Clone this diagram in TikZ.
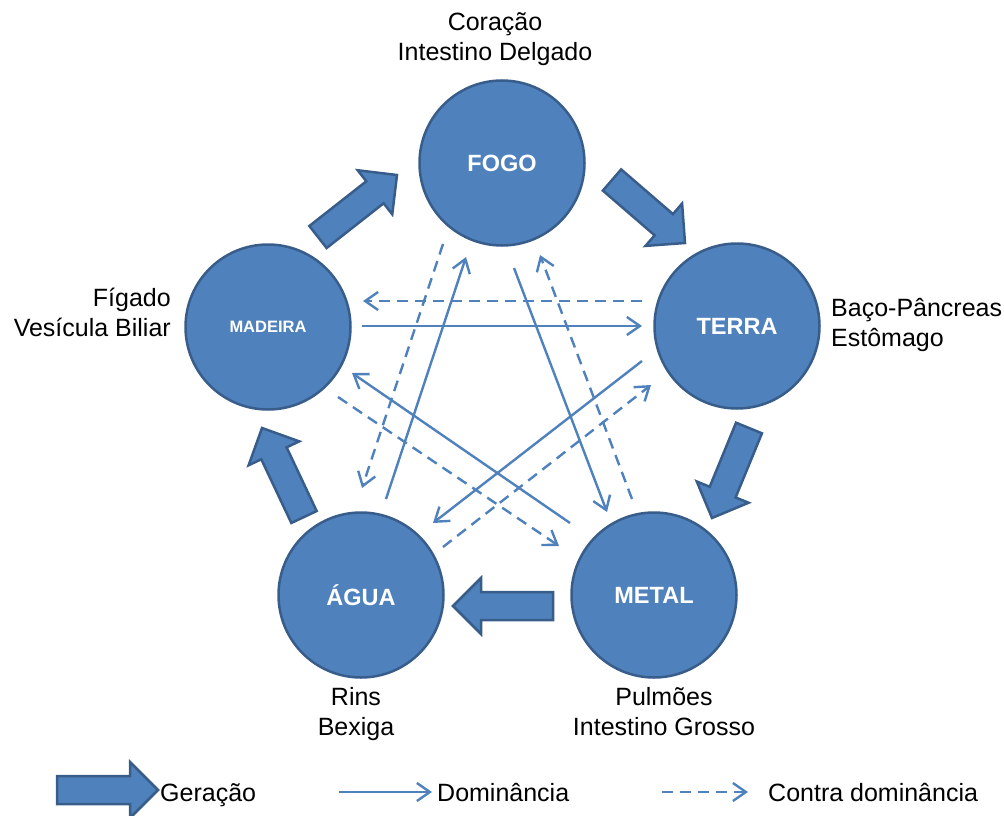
\documentclass[tikz,border=0pt]{standalone}
\usepackage{fontspec}
\setmainfont{Liberation Sans}
\usetikzlibrary{calc,arrows.meta}

\definecolor{elemfill}{HTML}{4F81BD}
\definecolor{elemedge}{HTML}{385D8A}
\definecolor{linkblue}{HTML}{4F81BD}

\tikzset{
  element/.style={circle, fill=elemfill, draw=elemedge, line width=2.5pt,
    minimum size=165pt, inner sep=0pt, text=white,
    font=\bfseries\fontsize{23.5}{28}\selectfont},
  organ/.style={inner sep=0pt, text=black, font=\fontsize{25}{29.5}\selectfont},
  gen/.style={fill=elemfill, draw=elemedge, line width=2.5pt, line join=miter},
  dom/.style={draw=linkblue, line width=2.4pt, -{Straight Barb[length=13pt,width=18pt]}},
  contra/.style={dom, dash pattern=on 11pt off 7pt},
}

% thick block arrow of the generation cycle, from tail (#1) to tip (#2)
\newcommand\genarrow[2]{%
  \coordinate (gh) at ($(#2)!28pt!(#1)$);
  \draw[gen] ($(#1)!14pt!90:(#2)$) -- ($(gh)!14pt!90:(#2)$)
    -- ($(gh)!28pt!90:(#2)$) -- (#2) -- ($(gh)!28pt!-90:(#2)$)
    -- ($(gh)!14pt!-90:(#2)$) -- ($(#1)!14pt!-90:(#2)$) -- cycle;}

\begin{document}
\begin{tikzpicture}[x=1pt, y=-1pt]
\useasboundingbox (0,0) rectangle (1004,816);

% the five elements
\node[element] (fogo)  at (502,163) {FOGO};
\node[element] (terra) at (737,326) {TERRA};
\node[element] (metal) at (654,595) {METAL};
\node[element] (agua)  at (361,595) {ÁGUA};
\node[element, font=\bfseries\fontsize{16.5}{20}\selectfont] (madeira) at (268,327) {MADEIRA};

% organs of each element (anchored at the baseline of the last line)
\node[organ, align=center, anchor=base] (o-fogo)  at (495,60)  {Coração\\Intestino Delgado};
\node[organ, align=left,   anchor=base west] (o-terra) at (831,346) {Baço-Pâncreas\\Estômago};
\node[organ, align=center, anchor=base] (o-metal) at (664,735) {Pulmões\\Intestino Grosso};
\node[organ, align=center, anchor=base] (o-agua)  at (356,735) {Rins\\Bexiga};
\node[organ, align=right,  anchor=base east] (o-madeira) at (171,336) {Fígado\\Vesícula Biliar};

% generation cycle
\coordinate (g1a) at (318,237); \coordinate (g1b) at (397,175);
\coordinate (g2a) at (612,180); \coordinate (g2b) at (685,243);
\coordinate (g3a) at (749,428); \coordinate (g3b) at (712,518);
\coordinate (g4a) at (553,606); \coordinate (g4b) at (453,606);
\coordinate (g5a) at (304,517); \coordinate (g5b) at (262,428);
\genarrow{g1a}{g1b}
\genarrow{g2a}{g2b}
\genarrow{g3a}{g3b}
\genarrow{g4a}{g4b}
\genarrow{g5a}{g5b}

% dominance (solid) and counter-dominance (dashed)
\coordinate (d1a) at (362,326); \coordinate (d1b) at (642,326);
\coordinate (d2a) at (642,361); \coordinate (d2b) at (433,523);
\coordinate (d3a) at (386,499); \coordinate (d3b) at (466,257);
\coordinate (d4a) at (514,268); \coordinate (d4b) at (607,512);
\coordinate (d5a) at (570,523); \coordinate (d5b) at (352,373);
\draw[dom] (d1a) -- (d1b);
\draw[dom] (d2a) -- (d2b);
\draw[dom] (d3a) -- (d3b);
\draw[dom] (d4a) -- (d4b);
\draw[dom] (d5a) -- (d5b);

\coordinate (c1a) at (642,301); \coordinate (c1b) at (363,301);
\coordinate (c2a) at (443,244); \coordinate (c2b) at (362,488);
\coordinate (c3a) at (632,499); \coordinate (c3b) at (540,255);
\coordinate (c4a) at (338,397); \coordinate (c4b) at (559,546);
\coordinate (c5a) at (443,547); \coordinate (c5b) at (651,385);
\draw[contra] (c1a) -- (c1b);
\draw[contra] (c2a) -- (c2b);
\draw[contra] (c3a) -- (c3b);
\draw[contra] (c4a) -- (c4b);
\draw[contra] (c5a) -- (c5b);

% legend
\coordinate (lg1) at (57,790);  \coordinate (lg2) at (158,790);
\genarrow{lg1}{lg2}
\node[organ, anchor=base west] (l-gen) at (160,801) {Geração};
\coordinate (ld1) at (339,792); \coordinate (ld2) at (432,792);
\draw[dom] (ld1) -- (ld2);
\node[organ, anchor=base west] (l-dom) at (437,801) {Dominância};
\coordinate (lc1) at (662,792); \coordinate (lc2) at (748,792);
\draw[contra] (lc1) -- (lc2);
\node[organ, anchor=base west] (l-contra) at (768,801) {Contra dominância};
\end{tikzpicture}
\end{document}
